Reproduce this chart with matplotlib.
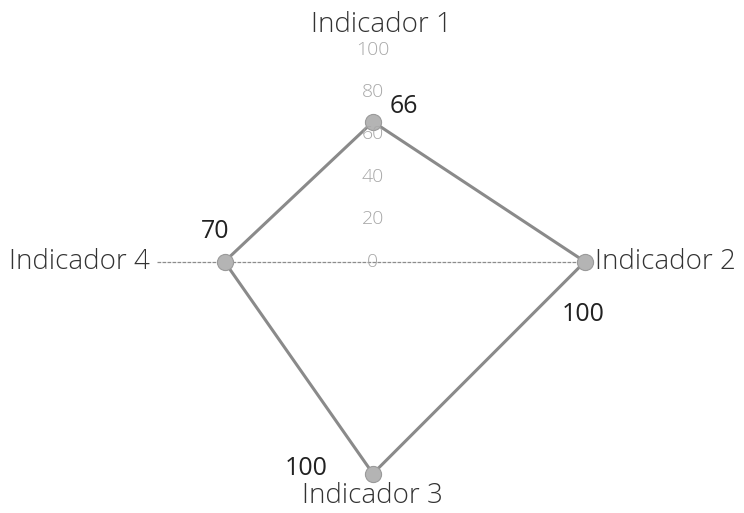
import numpy as np
import matplotlib.pyplot as plt

plt.rcParams['font.family'] = ['Open Sans', 'DejaVu Sans']

# data
indicators = ['Indicador 1', 'Indicador 2', 'Indicador 3', 'Indicador 4']
values = [66, 100, 100, 70]
r_ticks = [0, 20, 40, 60, 80, 100]

fig = plt.figure(figsize=(7.44, 5.13), dpi=100)
ax = fig.add_axes([0.2163, 0.0767, 0.5699, 0.8265], projection='polar')
ax.set_theta_offset(np.pi / 2)
ax.set_theta_direction(-1)
ax.set_ylim(0, 100)
ax.grid(False)
ax.spines['polar'].set_visible(False)
ax.set_xticks([])
ax.set_yticks([])
ax.patch.set_alpha(0)

angles = np.arange(len(indicators)) * 2 * np.pi / len(indicators)

# horizontal spoke (Indicador 4 -> Indicador 2)
ax.plot([angles[3], 0, angles[1]], [102, 0, 100], color='#8c8c8c', lw=0.9,
        ls=(0, (3, 1)), zorder=1, clip_on=False)

# polygon
th = np.append(angles, angles[0])
vals = np.append(values, values[0])
ax.plot(th, vals, color='#8a8a8a', lw=2.2, zorder=2, clip_on=False)
ax.scatter(angles, values, s=135, color='#b4b4b4', edgecolor='#9a9a9a',
           lw=0.8, zorder=3, clip_on=False)

# radial tick labels on the top axis
for t in r_ticks:
    ax.text(0, t, str(t), ha='center', va='center', fontsize=14,
            color='#a8a8a8', fontweight='light', zorder=4)

# category labels
lab_kw = dict(fontsize=20, color='#333333', fontweight='light')
ax.annotate(indicators[0], (angles[0], 100), xytext=(6, 18),
            textcoords='offset points', ha='center', va='center', **lab_kw)
ax.annotate(indicators[1], (angles[1], 100), xytext=(7, 0),
            textcoords='offset points', ha='left', va='center', **lab_kw)
ax.annotate(indicators[2], (angles[2], 100), xytext=(0, -16),
            textcoords='offset points', ha='center', va='center', **lab_kw)
ax.annotate(indicators[3], (angles[3], 100), xytext=(-8, 0),
            textcoords='offset points', ha='right', va='center', **lab_kw)

# data labels
offs = [(22, 11), (-1.5, -38), (-48, 4), (-6.5, 21.5)]
for a, v, o in zip(angles, values, offs):
    ax.annotate(str(v), (a, v), xytext=o, textcoords='offset points',
                ha='center', va='center', fontsize=18, color='#222222')

plt.savefig('out.png', dpi=100)
